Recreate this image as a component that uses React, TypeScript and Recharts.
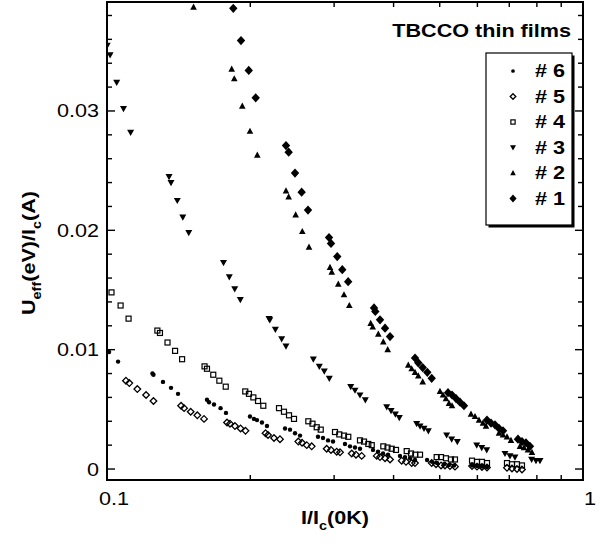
import { Scatter, ScatterChart, XAxis, YAxis } from "recharts";

const FONT = '"Liberation Sans", Arial, Helvetica, sans-serif';

// axis ticks
const xDomain: [number, number] = [0.1, 1];
const yDomain: [number, number] = [-0.00092, 0.03913];
const xTicks = [0.1, 0.2, 0.3, 0.4, 0.5, 0.6, 0.7, 0.8, 0.9, 1];
const xTickLabels = ["0.1", "1"];
const yTicks = [
  0, 0.002, 0.004, 0.006, 0.008, 0.01, 0.012, 0.014, 0.016, 0.018, 0.02, 0.022, 0.024, 0.026,
  0.028, 0.03, 0.032, 0.034, 0.036, 0.038,
];
const yTickLabels = ["0", "0.01", "0.02", "0.03"];

// I/Ic(0K), Ueff/Ic per film
const film1: [number, number][] = [
  [0.1842, 0.0386], [0.1912, 0.0359], [0.1985, 0.0334], [0.2053, 0.0311], [0.2377, 0.0271],
  [0.2408, 0.02655], [0.2483, 0.0248], [0.2564, 0.0232], [0.2644, 0.0217], [0.2927, 0.0194],
  [0.2955, 0.0189], [0.3046, 0.0178], [0.3121, 0.0167], [0.3211, 0.0157], [0.3639, 0.0135],
  [0.3662, 0.0132], [0.3746, 0.0125], [0.3838, 0.0118], [0.3932, 0.0111], [0.4437, 0.0093],
  [0.4508, 0.0089], [0.4605, 0.0085], [0.4709, 0.0081], [0.481, 0.0076], [0.5205, 0.0064],
  [0.5307, 0.0062], [0.5411, 0.0059], [0.5516, 0.0056], [0.5623, 0.0053], [0.6285, 0.0041],
  [0.6408, 0.00385], [0.6533, 0.0037], [0.6661, 0.0034], [0.6791, 0.0032], [0.7301, 0.0025],
  [0.7444, 0.0023], [0.7589, 0.0022], [0.7737, 0.0019],
];
const film2: [number, number][] = [
  [0.152, 0.0387], [0.1828, 0.0335], [0.1851, 0.0327], [0.1924, 0.0304], [0.1997, 0.0283],
  [0.2069, 0.0263], [0.2377, 0.0233], [0.2408, 0.0228], [0.2491, 0.0213], [0.2572, 0.0199],
  [0.2657, 0.0186], [0.2941, 0.0169], [0.2966, 0.0165], [0.3061, 0.0155], [0.3147, 0.0146],
  [0.3229, 0.0137], [0.3581, 0.0122], [0.3616, 0.0119], [0.3715, 0.0113], [0.3806, 0.01065],
  [0.3888, 0.01], [0.4295, 0.0087], [0.4366, 0.0084], [0.4437, 0.0081], [0.4508, 0.0078],
  [0.4605, 0.0073], [0.5007, 0.0065], [0.508, 0.0062], [0.5153, 0.0059], [0.523, 0.0055],
  [0.5307, 0.0053], [0.5817, 0.0046], [0.5931, 0.0044], [0.6047, 0.0041], [0.6164, 0.00385],
  [0.6255, 0.0036], [0.6661, 0.003], [0.6791, 0.00285], [0.6923, 0.0027], [0.7058, 0.0024],
  [0.7372, 0.0019], [0.7516, 0.0018], [0.7663, 0.0016], [0.7812, 0.0014],
];
const film3: [number, number][] = [
  [0.1001, 0.0355], [0.1015, 0.0347], [0.1048, 0.0324], [0.1083, 0.0302], [0.1121, 0.0282],
  [0.135, 0.0245], [0.1363, 0.024], [0.1405, 0.0225], [0.1443, 0.0211], [0.1485, 0.0198],
  [0.1757, 0.0173], [0.1807, 0.0161], [0.1855, 0.0151], [0.1906, 0.0142], [0.219, 0.0126],
  [0.2198, 0.0125], [0.2258, 0.0117], [0.2328, 0.0109], [0.2377, 0.0103], [0.2713, 0.0092],
  [0.2793, 0.0086], [0.2861, 0.0082], [0.2931, 0.0076], [0.3251, 0.0069], [0.3319, 0.0066],
  [0.34, 0.0062], [0.3489, 0.0058], [0.3869, 0.0052], [0.3951, 0.0049], [0.4034, 0.0046],
  [0.4112, 0.0043], [0.4473, 0.0038], [0.4546, 0.0036], [0.4634, 0.0034], [0.4732, 0.0032],
  [0.517, 0.00285], [0.5298, 0.0025], [0.5444, 0.0023], [0.598, 0.002], [0.6127, 0.0018],
  [0.6276, 0.0016], [0.6857, 0.0013], [0.7024, 0.0011], [0.7196, 0.001], [0.78, 0.0008],
  [0.7965, 0.0007], [0.8121, 0.0007],
];
const film4: [number, number][] = [
  [0.1022, 0.0148], [0.1068, 0.0137], [0.111, 0.0126], [0.1276, 0.0116], [0.1292, 0.0114],
  [0.134, 0.0106], [0.139, 0.0099], [0.1438, 0.0092], [0.1603, 0.0086], [0.1622, 0.0084],
  [0.1672, 0.0079], [0.1722, 0.0074], [0.1776, 0.0069], [0.1952, 0.0065], [0.1987, 0.0063],
  [0.203, 0.006], [0.2076, 0.0057], [0.213, 0.0053], [0.2298, 0.0051], [0.2354, 0.0048],
  [0.2412, 0.0045], [0.2471, 0.0042], [0.2648, 0.004], [0.2702, 0.0038], [0.2758, 0.0035],
  [0.2812, 0.0033], [0.3013, 0.0031], [0.3076, 0.0029], [0.3147, 0.0028], [0.3213, 0.0027],
  [0.34, 0.0024], [0.3467, 0.0023], [0.354, 0.0021], [0.3599, 0.002], [0.3806, 0.0019],
  [0.3884, 0.0018], [0.3964, 0.0017], [0.4047, 0.0016], [0.4262, 0.0015], [0.4352, 0.0013],
  [0.4443, 0.0012], [0.4546, 0.0012], [0.4927, 0.001], [0.5032, 0.001], [0.5153, 0.0009],
  [0.528, 0.0008], [0.5383, 0.0008], [0.5846, 0.0007], [0.5988, 0.0006], [0.6135, 0.0006],
  [0.6285, 0.0005], [0.6923, 0.0005], [0.7093, 0.0004], [0.7266, 0.0004], [0.7444, 0.0003],
];
const film5: [number, number][] = [
  [0.1096, 0.0074], [0.1114, 0.0072], [0.1158, 0.0067], [0.1208, 0.0062], [0.1252, 0.0057],
  [0.1431, 0.0053], [0.1452, 0.0051], [0.1499, 0.0048], [0.1548, 0.0045], [0.1599, 0.0042],
  [0.1787, 0.0039], [0.1813, 0.0038], [0.1857, 0.0036], [0.1908, 0.0034], [0.1954, 0.0032],
  [0.2153, 0.003], [0.2179, 0.00285], [0.2243, 0.0026], [0.2309, 0.0025], [0.2523, 0.0023],
  [0.2569, 0.0022], [0.2628, 0.002], [0.2692, 0.0019], [0.2894, 0.0017], [0.2955, 0.0016],
  [0.3038, 0.00145], [0.3087, 0.0014], [0.3267, 0.0013], [0.3335, 0.0012], [0.3428, 0.0011],
  [0.3687, 0.0011], [0.3746, 0.001], [0.3838, 0.0009], [0.3932, 0.0008], [0.416, 0.0007],
  [0.4248, 0.0006], [0.4366, 0.0005], [0.4437, 0.0005], [0.481, 0.0005], [0.4912, 0.0004],
  [0.5032, 0.0003], [0.5129, 0.0003], [0.5254, 0.00025], [0.5383, 0.0002], [0.5846, 0.00025],
  [0.5988, 0.0002], [0.6135, 0.00017], [0.6285, 0.00013], [0.6923, 0.0001], [0.7093, 0.00005],
  [0.7266, 0], [0.7444, -0.00004],
];
const film6: [number, number][] = [
  [0.101, 0.0098], [0.1055, 0.009], [0.1246, 0.008], [0.1252, 0.0079], [0.1311, 0.0073],
  [0.1363, 0.0068], [0.141, 0.0063], [0.1622, 0.0058], [0.1638, 0.0056], [0.1678, 0.0054],
  [0.1732, 0.0051], [0.1778, 0.0047], [0.1997, 0.0044], [0.2036, 0.0042], [0.2066, 0.0041],
  [0.2116, 0.0039], [0.2168, 0.0036], [0.2366, 0.0034], [0.2424, 0.0033], [0.2483, 0.003],
  [0.2544, 0.0028], [0.2775, 0.0027], [0.2843, 0.0026], [0.2913, 0.0024], [0.2984, 0.0023],
  [0.3162, 0.0021], [0.324, 0.0019], [0.3319, 0.0018], [0.34, 0.0017], [0.3621, 0.0016],
  [0.371, 0.00146], [0.3801, 0.0013], [0.3894, 0.0012], [0.4126, 0.0011], [0.4227, 0.001],
  [0.4331, 0.0009], [0.4437, 0.00075], [0.4703, 0.00075], [0.4818, 0.0006], [0.4935, 0.0005],
  [0.5105, 0.0004], [0.523, 0.00033], [0.5358, 0.0003], [0.5846, 0.0003], [0.5988, 0.00025],
  [0.6135, 0.0002], [0.6285, 0.00017],
];

type MarkerKind = "diamond" | "triUp" | "triDown" | "square" | "openDiamond" | "dot";

const series: { name: string; kind: MarkerKind; data: [number, number][] }[] = [
  { name: "# 6", kind: "dot", data: film6 },
  { name: "# 5", kind: "openDiamond", data: film5 },
  { name: "# 4", kind: "square", data: film4 },
  { name: "# 3", kind: "triDown", data: film3 },
  { name: "# 2", kind: "triUp", data: film2 },
  { name: "# 1", kind: "diamond", data: film1 },
];

// plot box, shared by the chart margins and the frame overlay
const PLOT = { left: 107, top: 2, width: 476, height: 478 };
const CHART_W = 600;
const CHART_H = 546;

function Marker({ kind, cx, cy, s = 1 }: { kind: MarkerKind; cx: number; cy: number; s?: number }) {
  switch (kind) {
    case "diamond":
      return (
        <path
          d={`M${cx},${cy - 4.6 * s}L${cx + 4.2 * s},${cy}L${cx},${cy + 4.6 * s}L${cx - 4.2 * s},${cy}Z`}
          fill="#000"
        />
      );
    case "triUp":
      return (
        <path
          d={`M${cx},${cy - 3.6 * s}L${cx + 3.3 * s},${cy + 2.6 * s}L${cx - 3.3 * s},${cy + 2.6 * s}Z`}
          fill="#000"
        />
      );
    case "triDown":
      return (
        <path
          d={`M${cx},${cy + 3.6 * s}L${cx + 3.5 * s},${cy - 2.6 * s}L${cx - 3.5 * s},${cy - 2.6 * s}Z`}
          fill="#000"
        />
      );
    case "square":
      return (
        <rect
          x={cx - 2.5 * s}
          y={cy - 2.5 * s}
          width={5 * s}
          height={5 * s}
          fill="none"
          stroke="#000"
          strokeWidth={1.2}
        />
      );
    case "openDiamond":
      return (
        <path
          d={`M${cx},${cy - 3.3 * s}L${cx + 3.3 * s},${cy}L${cx},${cy + 3.3 * s}L${cx - 3.3 * s},${cy}Z`}
          fill="none"
          stroke="#000"
          strokeWidth={1.3}
        />
      );
    default:
      return <circle cx={cx} cy={cy} r={2.2 * s} fill="#000" />;
  }
}

const wide = (anchor: string) => ({
  transformBox: "fill-box" as const,
  transformOrigin: anchor === "end" ? "100% 50%" : anchor === "start" ? "0% 50%" : "50% 50%",
  transform: "scaleX(1.2)",
});

function tickLabel(value: number, labels: string[]) {
  return labels.find((l) => Math.abs(Number(l) - value) < 1e-9) ?? "";
}

function BottomTick({ x, y, payload }: any) {
  const label = tickLabel(payload.value, xTickLabels);
  if (!label) return <g />;
  return (
    <text x={x + 7} y={y + 25} textAnchor="middle" fontSize={18} fontFamily={FONT} fill="#000" style={wide("middle")}>
      {label}
    </text>
  );
}

function LeftTick({ x, y, payload }: any) {
  const label = tickLabel(payload.value, yTickLabels);
  if (!label) return <g />;
  return (
    <text x={x - 8} y={y + 6.5} textAnchor="end" fontSize={18} fontFamily={FONT} fill="#000" style={wide("end")}>
      {label}
    </text>
  );
}

// frame with inward ticks on all four sides, placed from the same domains as the axes
function Frame() {
  const right = PLOT.left + PLOT.width;
  const bottom = PLOT.top + PLOT.height;
  const xPos = (v: number) => PLOT.left + (PLOT.width * Math.log10(v / xDomain[0])) / Math.log10(xDomain[1] / xDomain[0]);
  const yPos = (v: number) => bottom - (PLOT.height * (v - yDomain[0])) / (yDomain[1] - yDomain[0]);
  return (
    <g>
      {xTicks.map((v) => (
        <g key={`x${v}`}>
          <rect x={xPos(v) - 0.7} y={bottom - 5} width={1.4} height={5} fill="#000" />
          <rect x={xPos(v) - 0.7} y={PLOT.top} width={1.4} height={5} fill="#000" />
        </g>
      ))}
      {yTicks.map((v) => {
        const len = tickLabel(v, yTickLabels) ? 8 : 5;
        return (
          <g key={`y${v}`}>
            <rect x={PLOT.left} y={yPos(v) - 0.7} width={len} height={1.4} fill="#000" />
            <rect x={right - len} y={yPos(v) - 0.7} width={len} height={1.4} fill="#000" />
          </g>
        );
      })}
      <rect x={PLOT.left} y={PLOT.top} width={PLOT.width} height={PLOT.height} fill="none" stroke="#000" strokeWidth={2} />
    </g>
  );
}

function Overlay() {
  return (
    <svg width={CHART_W} height={CHART_H} style={{ position: "absolute", left: 0, top: 0, pointerEvents: "none" }}>
      <Frame />
      <text x={335} y={524} textAnchor="middle" fontSize={18} fontWeight="bold" fontFamily={FONT} fill="#000" style={wide("middle")}>
        I/I
        <tspan dy={6} fontSize={12}>c</tspan>
        <tspan dy={-6}>(0K)</tspan>
      </text>
      <g transform="rotate(-90, 28, 253)">
        <text x={28} y={260} textAnchor="middle" fontSize={18} fontWeight="bold" fontFamily={FONT} fill="#000" style={wide("middle")}>
          U
          <tspan dy={6} fontSize={12}>eff</tspan>
          <tspan dy={-6}>(eV)/I</tspan>
          <tspan dy={6} fontSize={12}>c</tspan>
          <tspan dy={-6}>(A)</tspan>
        </text>
      </g>
      <text x={571} y={37.5} textAnchor="end" fontSize={18} fontWeight="bold" fontFamily={FONT} fill="#000" style={wide("end")}>
        TBCCO thin films
      </text>
      <rect x={488.5} y={55.5} width={86} height={172} fill="#000" />
      <rect x={486} y={53} width={86} height={172} fill="#fff" stroke="#000" strokeWidth={1.2} />
      {series.map((s, i) => {
        const cy = 71 + i * 25.5;
        return (
          <g key={s.name}>
            <Marker kind={s.kind} cx={513} cy={cy} s={0.85} />
            <text x={535} y={cy + 6.5} fontSize={18} fontWeight="bold" fontFamily={FONT} fill="#000" style={wide("start")}>
              {s.name}
            </text>
          </g>
        );
      })}
    </svg>
  );
}

const frameLine = { stroke: "#000", strokeWidth: 2 };

export default function App() {
  return (
    <div style={{ position: "absolute", left: 0, top: 0, width: CHART_W, height: CHART_H, background: "#fff" }}>
      <ScatterChart
        width={CHART_W}
        height={CHART_H}
        margin={{ top: PLOT.top, right: CHART_W - PLOT.left - PLOT.width, bottom: 0, left: 0 }}
      >
        <XAxis
          dataKey="x"
          type="number"
          scale="log"
          domain={xDomain}
          allowDataOverflow
          ticks={xTicks}
          interval={0}
          height={CHART_H - PLOT.top - PLOT.height}
          tickSize={0}
          tickMargin={0}
          tickLine={false}
          axisLine={frameLine}
          tick={BottomTick}
        />
        <YAxis
          dataKey="y"
          type="number"
          domain={yDomain}
          allowDataOverflow
          ticks={yTicks}
          interval={0}
          width={PLOT.left}
          tickSize={0}
          tickMargin={0}
          tickLine={false}
          axisLine={frameLine}
          tick={LeftTick}
        />
        {series.map((s) => (
          <Scatter
            key={s.name}
            name={s.name}
            data={s.data.map(([x, y]) => ({ x, y }))}
            fill="#000"
            isAnimationActive={false}
            shape={(p: any) => <Marker kind={s.kind} cx={p.cx} cy={p.cy} />}
          />
        ))}
      </ScatterChart>
      <Overlay />
    </div>
  );
}
